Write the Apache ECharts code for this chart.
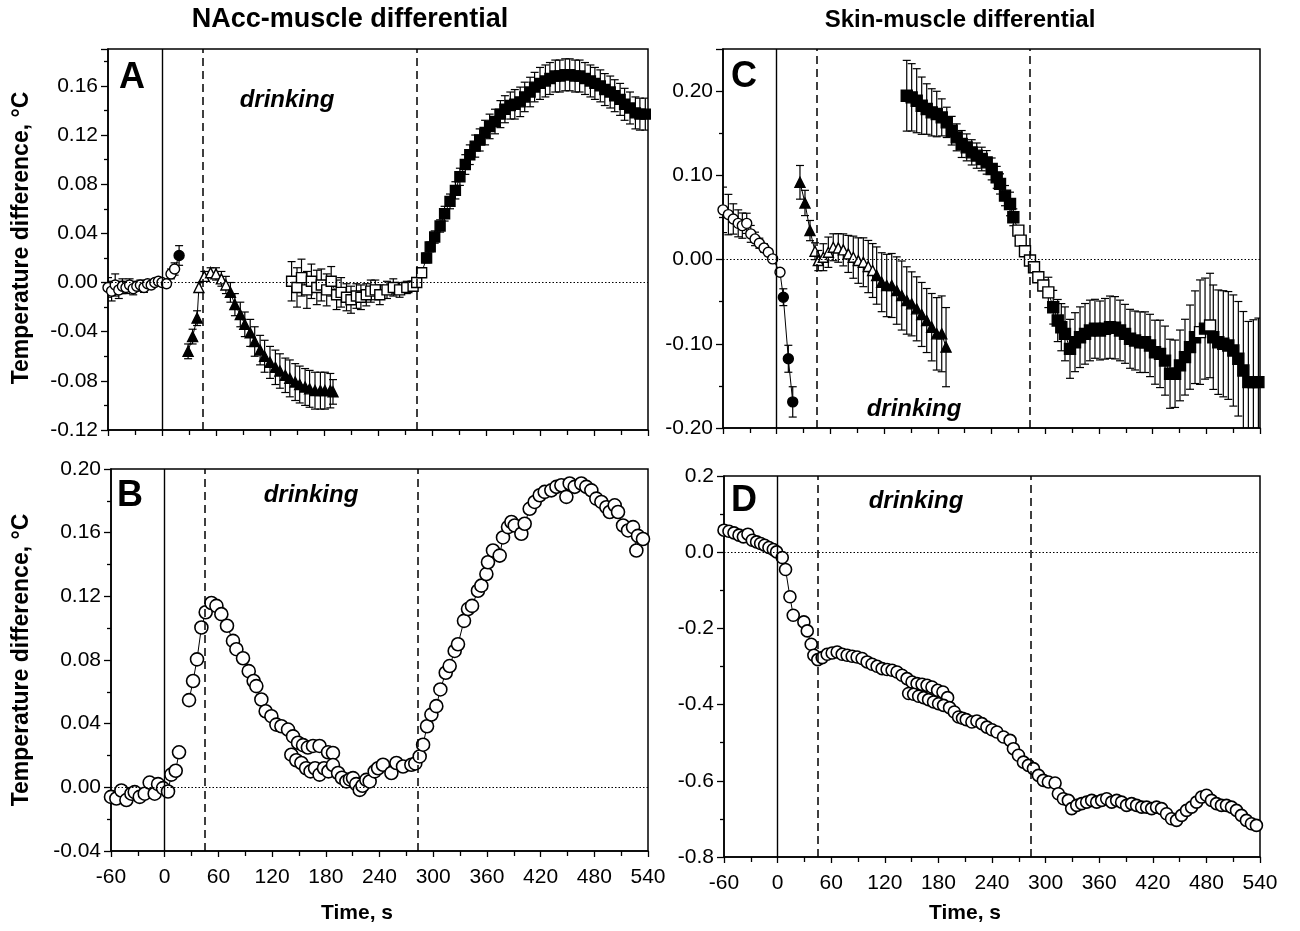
<!DOCTYPE html>
<html>
<head>
<meta charset="utf-8">
<script src="https://cdn.jsdelivr.net/npm/echarts@6/dist/echarts.min.js"></script>
<style>html,body{margin:0;padding:0;background:#fff}#c{width:1300px;height:931px}</style>
</head>
<body>
<div id="c"></div>
<script>
// ---------------- DATA ----------------
// [time s, value °C, s.e.m., filled(1)/open(0)]
const aCircles = [[-60,-0.004,0.008,0],[-56,-0.007,0.008,0],[-52,-0.002,0.009,0],[-48,-0.006,0.007,0],[-44,-0.003,0.006,0],[-40,-0.004,0.005,0],[-36,-0.002,0.005,0],[-32,-0.005,0.005,0],[-28,-0.003,0.004,0],[-24,-0.002,0.004,0],[-20,-0.004,0.004,0],[-16,-0.001,0.003,0],[-12,-0.002,0.003,0],[-8,0.000,0.003,0],[-4,0.001,0.002,0],[0,0.000,0.002,0],[5,-0.001,0.003,0],[10,0.007,0.004,0],[14,0.011,0.005,0],[19,0.022,0.008,1]];
const aTriangles = [[29,-0.056,0.006,1],[34,-0.044,0.006,1],[39,-0.029,0.006,1],[41,-0.004,0.004,0],[47,0.005,0.004,0],[54,0.008,0.004,0],[60,0.007,0.005,0],[66,0.003,0.006,0],[71,-0.002,0.007,0],[76,-0.008,0.008,1],[81,-0.018,0.009,1],[87,-0.026,0.010,1],[92,-0.034,0.010,1],[98,-0.041,0.011,1],[103,-0.048,0.012,1],[109,-0.055,0.012,1],[114,-0.060,0.013,1],[120,-0.065,0.013,1],[126,-0.069,0.014,1],[131,-0.072,0.014,1],[137,-0.0755,0.014,1],[142,-0.078,0.015,1],[148,-0.081,0.015,1],[153,-0.083,0.015,1],[159,-0.085,0.015,1],[164,-0.0865,0.015,1],[170,-0.088,0.015,1],[176,-0.088,0.015,1],[181,-0.088,0.015,1],[187,-0.088,0.014,1],[190,-0.089,0.010,1]];
const aSquares = [[144,0.001,0.016,0],[150,-0.004,0.016,0],[155,0.004,0.015,0],[161,-0.006,0.015,0],[166,0.001,0.014,0],[172,-0.004,0.014,0],[177,-0.002,0.013,0],[183,-0.006,0.013,0],[188,0.001,0.012,0],[194,-0.010,0.012,0],[199,-0.008,0.012,0],[205,-0.012,0.011,0],[210,-0.014,0.011,0],[216,-0.011,0.010,0],[221,-0.012,0.010,0],[227,-0.010,0.009,0],[232,-0.007,0.009,0],[237,-0.006,0.008,0],[242,-0.010,0.008,0],[250,-0.006,0.007,0],[257,-0.004,0.007,0],[264,-0.006,0.006,0],[272,-0.004,0.005,0],[279,-0.003,0.004,0],[283,0.000,0.003,0],[288.5,0.008,0.003,0],
 [294,0.020,0.004,1],[298,0.029,0.004,1],[303,0.037,0.005,1],[309,0.046,0.005,1],[314,0.056,0.006,1],[320,0.066,0.006,1],[326,0.075,0.007,1],[331,0.086,0.007,1],[337,0.096,0.008,1],[342,0.104,0.008,1],[348,0.111,0.009,1],[353,0.116,0.009,1],[359,0.122,0.010,1],[364,0.127,0.010,1],[370,0.131,0.010,1],[376,0.137,0.011,1],[381,0.141,0.011,1],[387,0.144,0.011,1],[392,0.145,0.012,1],[398,0.147,0.012,1],[403,0.151,0.012,1],[409,0.155,0.012,1],[414,0.159,0.012,1],[420,0.162,0.013,1],[426,0.164,0.013,1],[431,0.166,0.013,1],[437,0.168,0.013,1],[442,0.168,0.013,1],[448,0.169,0.013,1],[453,0.169,0.013,1],[459,0.168,0.013,1],[464,0.168,0.013,1],[470,0.166,0.013,1],[476,0.164,0.013,1],[481,0.162,0.013,1],[487,0.160,0.013,1],[492,0.157,0.013,1],[498,0.155,0.013,1],[503,0.152,0.013,1],[509,0.149,0.013,1],[514,0.145,0.013,1],[520,0.142,0.013,1],[526,0.138,0.013,1],[531,0.137,0.013,1],[537,0.137,0.013,1]];

// [time s, value °C]
const bSeg1 = [[-60,-0.006],[-54,-0.007],[-48.4,-0.002],[-42.8,-0.008],[-37.2,-0.004],[-33.5,-0.003],[-27.9,-0.006],[-22.3,-0.004],[-16.8,0.003],[-11.2,-0.004],[-7.4,0.002],[-1.9,-0.0005],[3.7,-0.0026],[7.4,0.008],[12.3,0.0104],[16,0.022]];
const bSeg2 = [[27.2,0.0548],[31.7,0.0668],[36.1,0.0804],[41,0.1004],[45.8,0.110],[52.2,0.1158],[57.8,0.114],[63.3,0.1088],[69.6,0.1015],[76.3,0.092],[80.1,0.0868],[87.5,0.0811],[93.9,0.073],[99.4,0.0668],[102.4,0.0636],[108,0.0552],[112.8,0.0478],[119.2,0.0447],[124.8,0.0394],[130.4,0.0384],[137.8,0.0363],[143.4,0.032],[149,0.028],[154.6,0.0265],[160,0.025],[165.7,0.026],[173,0.026],[182.5,0.022],[188,0.0216]];
const bSeg3 = [[141.5,0.0205],[147,0.017],[152.7,0.0153],[158,0.012],[163,0.010],[168,0.012],[173,0.008],[178,0.012],[183,0.010],[188,0.014],[193.7,0.009],[198,0.006],[203,0.0037],[207,0.005],[210.4,0.0058],[214,0.002],[217.9,-0.0016],[221,0.001],[225.3,0.0047],[229,0.0037],[234.6,0.010],[238.4,0.012],[243.9,0.0142],[253.3,0.009],[258.9,0.0153],[266.3,0.0131],[275.6,0.0142],[280,0.015],[284.9,0.0194],[288.7,0.0268],[293.1,0.0384],[298,0.0457],[303.5,0.051],[308,0.0615],[314,0.072],[318.4,0.0762],[324,0.0857],[327.7,0.0899],[334.4,0.1046],[338.9,0.112],[343.4,0.114],[350,0.1235],[353.8,0.1267],[359.4,0.134],[361.2,0.1414],[366.8,0.1488],[374.3,0.1456],[378,0.157],[383.6,0.1635],[387.4,0.1667],[391.1,0.1645],[398.5,0.1593],[402.2,0.1656],[407.8,0.175],[413.4,0.1793],[419,0.1835],[424.6,0.1856],[432,0.1866],[437.7,0.1888],[443.2,0.1898],[448.8,0.1825],[452.5,0.1909],[458.1,0.1888],[465.5,0.1909],[471.1,0.1888],[476.7,0.1866],[482.3,0.1814],[487.9,0.1793],[493.5,0.176],[497.2,0.173],[502.8,0.1772],[506.5,0.173],[512.1,0.1645],[517.7,0.1614],[523.3,0.1635],[527,0.1488],[528.8,0.158],[534.4,0.156]];

// [time s, value °C, s.e.m., filled(1)/open(0)]
const cCircles = [[-60,0.059,0.027,0],[-54,0.0534,0.024,0],[-48.5,0.0482,0.018,0],[-43,0.043,0.016,0],[-38.4,0.0403,0.015,0],[-33.5,0.043,0.012,0],[-29,0.0305,0.010,0],[-24.2,0.0245,0.008,0],[-19.4,0.0194,0.006,0],[-14.2,0.0138,0.005,0],[-9.4,0.0087,0.004,0],[-4.5,0.0008,0.003,0],[3.7,-0.015,0.004,0],[7.4,-0.0447,0.010,1],[13,-0.1178,0.016,1],[17.9,-0.169,0.018,1]];
const cTriangles = [[26,0.0917,0.020,1],[31.6,0.0672,0.015,1],[37.2,0.0344,0.012,1],[42.8,0.0099,0.010,0],[46.5,-0.0012,0.012,0],[52.1,0.0028,0.016,0],[57.7,0.0087,0.018,0],[63.2,0.0146,0.016,0],[68.8,0.0138,0.017,0],[74.4,0.0115,0.019,0],[80,0.0067,0.022,0],[85.6,0.0028,0.025,0],[91.2,-0.0012,0.027,0],[96.8,-0.0032,0.029,0],[102.3,-0.0083,0.031,0],[107.2,-0.013,0.032,0],[111.7,-0.019,0.034,1],[117.3,-0.0269,0.035,1],[122.9,-0.0308,0.037,1],[128.5,-0.0308,0.038,1],[134.1,-0.0368,0.040,1],[139.7,-0.0427,0.041,1],[145.3,-0.0486,0.040,1],[150.8,-0.0526,0.038,1],[156.4,-0.0585,0.038,1],[162,-0.0652,0.038,1],[167.6,-0.0724,0.038,1],[173.2,-0.0803,0.040,1],[178.8,-0.0882,0.043,1],[184.4,-0.0882,0.045,1],[189.2,-0.104,0.047,1]];
const cSquares = [[145.3,0.1945,0.042,1],[150.8,0.1926,0.040,1],[156.4,0.1886,0.038,1],[162,0.1827,0.034,1],[167.6,0.1787,0.030,1],[173.2,0.1748,0.028,1],[178.8,0.1728,0.027,1],[184.4,0.1688,0.022,1],[190,0.1629,0.018,1],[195.5,0.153,0.017,1],[201.1,0.1451,0.016,1],[206.7,0.1372,0.016,1],[212.3,0.1332,0.016,1],[217.9,0.1273,0.015,1],[223.5,0.1234,0.015,1],[229.1,0.1194,0.014,1],[234.6,0.1154,0.014,1],[240.2,0.1076,0.013,1],[245.8,0.0976,0.013,1],[249.5,0.0898,0.012,1],[255.1,0.0759,0.012,1],[260.7,0.066,0.014,1],[264.4,0.0502,0.010,1],
 [270,0.0344,0.005,0],[272.6,0.0225,0.004,0],[277.4,0.0099,0.004,0],[283,-0.0012,0.004,0],[287.5,-0.0091,0.004,0],[292.3,-0.021,0.005,0],[297.9,-0.0308,0.006,0],[303.5,-0.039,0.018,0],
 [309,-0.0566,0.020,1],[314,-0.0724,0.025,1],[318,-0.0803,0.028,1],[322.1,-0.0882,0.032,1],[327.7,-0.106,0.035,1],[333.3,-0.0981,0.035,1],[338.9,-0.0922,0.036,1],[344.5,-0.0882,0.036,1],[350,-0.0842,0.036,1],[355.6,-0.0822,0.035,1],[361.2,-0.0842,0.035,1],[366.8,-0.0822,0.036,1],[372.4,-0.0803,0.037,1],[378,-0.081,0.037,1],[383.6,-0.0842,0.036,1],[389.2,-0.0882,0.035,1],[394.8,-0.0941,0.035,1],[400.4,-0.0961,0.035,1],[406,-0.0981,0.036,1],[411.5,-0.0981,0.036,1],[417.1,-0.102,0.037,1],[422.7,-0.110,0.038,1],[428.3,-0.112,0.040,1],[433.9,-0.120,0.041,1],[439.5,-0.1356,0.041,1],[445.1,-0.1356,0.040,1],[450.6,-0.1257,0.042,1],[456.2,-0.1159,0.045,1],[461.8,-0.104,0.050,1],[467.4,-0.0922,0.055,1],[473,-0.0862,0.062,0],[478.6,-0.082,0.060,1],[484.2,-0.0783,0.062,0],[487.8,-0.0922,0.062,1],[493.4,-0.0981,0.062,1],[499,-0.100,0.063,1],[504.6,-0.102,0.064,1],[510.2,-0.108,0.066,1],[515.8,-0.1178,0.068,1],[521.4,-0.1317,0.070,1],[527,-0.1455,0.072,1],[532.6,-0.1455,0.074,1],[538.2,-0.1455,0.076,1]];

// [time s, value °C]
const dSeg1 = [[-60,0.0578],[-54.4,0.055],[-48.8,0.0508],[-43.2,0.0447],[-38.3,0.0403],[-33.2,0.0473],[-28.3,0.0315],[-23.5,0.027],[-19,0.0228],[-14.5,0.0184],[-9.7,0.0123],[-4.8,0.007],[-1.1,0.0008],[5.2,-0.014],[8.9,-0.0455],[13.8,-0.117],[17.5,-0.1655]];
const dSeg2 = [[29.4,-0.183],[33.2,-0.2066],[37.6,-0.2417],[40.6,-0.2705],[45,-0.282],[49.9,-0.2766],[55.5,-0.268],[61.1,-0.2645],[66.7,-0.262],[72.3,-0.268],[77.9,-0.2705],[83.5,-0.273],[89,-0.275],[94.6,-0.279],[100.2,-0.288],[105.8,-0.294],[111.4,-0.2995],[117,-0.3056],[122.6,-0.308],[128.2,-0.31],[133.7,-0.3144],[139.3,-0.323],[144.9,-0.3318],[150.5,-0.3406],[156.1,-0.345],[161.7,-0.3467],[167.3,-0.3494],[172.8,-0.3537],[179.1,-0.3625],[185.1,-0.367],[190.3,-0.3818]];
const dSeg3 = [[146.7,-0.371],[152.3,-0.373],[157.9,-0.378],[163.5,-0.3818],[169,-0.387],[174.6,-0.393],[180.2,-0.3976],[185.8,-0.402],[192.5,-0.408],[197.8,-0.4195],[202.6,-0.4326],[207,-0.436],[211.2,-0.4395],[217.5,-0.4457],[223.1,-0.443],[228.7,-0.45],[234.3,-0.459],[240,-0.466],[245.5,-0.472],[252.9,-0.485],[260.3,-0.494],[264,-0.5157],[269.6,-0.533],[275.2,-0.551],[280.8,-0.5595],[286.4,-0.568],[292,-0.5858],[297.5,-0.599],[303.1,-0.603],[310.6,-0.6057],[314.3,-0.634],[319.9,-0.647],[325.5,-0.6514],[329.2,-0.673],[334.9,-0.6646],[340.4,-0.66],[346,-0.656],[351.6,-0.6514],[357.2,-0.656],[362.8,-0.6514],[368.4,-0.647],[374,-0.656],[379.6,-0.6514],[385.1,-0.656],[390.7,-0.6646],[396.3,-0.66],[401.9,-0.6646],[407.5,-0.669],[413.1,-0.669],[418.7,-0.673],[424.2,-0.669],[429.8,-0.673],[435.4,-0.6865],[441,-0.6996],[446.6,-0.704],[452.2,-0.6908],[457.8,-0.6777],[463.4,-0.669],[469,-0.656],[474.5,-0.6427],[480.1,-0.638],[485.7,-0.6514],[491.3,-0.66],[496.9,-0.6646],[502.5,-0.6646],[508.1,-0.669],[513.7,-0.6777],[519.2,-0.6908],[524.8,-0.704],[530.4,-0.7126],[536,-0.717]];

// event markers (s)
const drinkStart = 45;
const drinkEnd = 283;

// axis ranges [min, max, interval]
const xRange = [-60, 540, 60];
const yRangeA = [-0.12, 0.19, 0.04];
const yRangeB = [-0.04, 0.20, 0.04];
const yRangeC = [-0.20, 0.25, 0.10];
const yRangeD = [-0.80, 0.20, 0.20];

// ---------------- CHART ----------------
const FONT = 'Liberation Sans, Arial, Helvetica, sans-serif';
const chart = echarts.init(document.getElementById('c'), null, {renderer: 'canvas'});

const grids = [
  {left: 108, top: 49, width: 540, height: 381},
  {left: 111, top: 469, width: 537, height: 382},
  {left: 723, top: 49, width: 537, height: 379},
  {left: 724, top: 476, width: 536, height: 381}
].map(g => Object.assign({show: true, borderColor: '#000', borderWidth: 1.5, backgroundColor: 'transparent'}, g));

function fmt(dec) {
  return v => (Math.abs(v) < 1e-9 ? 0 : v).toFixed(dec);
}

function xAxis(i, showLabels) {
  return {
    type: 'value', gridIndex: i, min: xRange[0], max: xRange[1], interval: xRange[2],
    axisLine: {show: true, onZero: false, lineStyle: {color: '#000', width: 1.5}},
    axisTick: {show: true, length: 6, lineStyle: {color: '#000', width: 1.3}},
    minorTick: {show: true, splitNumber: 2, length: 5, lineStyle: {color: '#000', width: 1.3}},
    splitLine: {show: false},
    axisLabel: {show: showLabels, color: '#000', fontFamily: FONT, fontSize: 21, margin: 16}
  };
}
function yAxis(i, r, dec) {
  return {
    type: 'value', gridIndex: i, min: r[0], max: r[1], interval: r[2],
    axisLine: {show: true, onZero: false, lineStyle: {color: '#000', width: 1.5}},
    axisTick: {show: true, length: 7, lineStyle: {color: '#000', width: 1.3}},
    minorTick: {show: true, splitNumber: 2, length: 4, lineStyle: {color: '#000', width: 1.3}},
    splitLine: {show: false},
    axisLabel: {show: true, color: '#000', fontFamily: FONT, fontSize: 21, margin: 10,
      showMaxLabel: (r[1] / r[2]) % 1 === 0, formatter: fmt(dec)}
  };
}

function errRender(params, api) {
  const x = api.value(0), y = api.value(1), e = api.value(2);
  const top = api.coord([x, y + e]);
  const bot = api.coord([x, y - e]);
  const cw = 4;
  const st = {stroke: '#000', lineWidth: 1.2};
  return {type: 'group', children: [
    {type: 'line', shape: {x1: top[0], y1: top[1], x2: bot[0], y2: bot[1]}, style: st},
    {type: 'line', shape: {x1: top[0] - cw, y1: top[1], x2: top[0] + cw, y2: top[1]}, style: st},
    {type: 'line', shape: {x1: bot[0] - cw, y1: bot[1], x2: bot[0] + cw, y2: bot[1]}, style: st}
  ]};
}

function errSeries(i, arr) {
  return {type: 'custom', xAxisIndex: i, yAxisIndex: i, renderItem: errRender, clip: true,
    data: arr.map(d => [d[0], d[1], d[2]]), encode: {x: 0, y: 1}, z: 2, silent: true, animation: false};
}
function markSeries(i, arr, symbol, size, bw) {
  return {type: 'line', xAxisIndex: i, yAxisIndex: i, symbol: symbol, symbolSize: size, clip: true,
    data: arr.map(d => ({value: [d[0], d[1]], itemStyle: {color: d[3] === 1 ? '#000' : '#fff'}})),
    lineStyle: {color: '#000', width: 1}, itemStyle: {borderColor: '#000', borderWidth: bw},
    emphasis: {disabled: true}, z: 4, silent: true, animation: false};
}
function openSeries(i, arr, size, bw) {
  return markSeries(i, arr.map(d => [d[0], d[1], 0, 0]), 'circle', size, bw);
}
function refLines(i) {
  return {type: 'line', xAxisIndex: i, yAxisIndex: i, data: [], z: 1, silent: true, animation: false,
    markLine: {silent: true, symbol: ['none', 'none'], label: {show: false}, animation: false,
      data: [
        {xAxis: 0, lineStyle: {color: '#000', width: 1.4, type: 'solid'}},
        {xAxis: drinkStart, lineStyle: {color: '#000', width: 1.5, type: [8, 5]}},
        {xAxis: drinkEnd, lineStyle: {color: '#000', width: 1.5, type: [8, 5]}},
        {yAxis: 0, lineStyle: {color: '#000', width: 1, type: [1.5, 2]}}
      ]}};
}

function txt(x, y, s, size, opts) {
  return {type: 'text', x: x, y: y, silent: true,
    style: Object.assign({text: s, fill: '#000', fontFamily: FONT, fontSize: size, fontWeight: 'bold',
      align: 'center', verticalAlign: 'middle'}, opts || {})};
}

const graphics = [
  txt(350, 20, 'NAcc-muscle differential', 27),
  txt(960, 20, 'Skin-muscle differential', 24),
  Object.assign(txt(22, 238, 'Temperature difference, °C', 23), {rotation: Math.PI / 2}),
  Object.assign(txt(22, 660, 'Temperature difference, °C', 23), {rotation: Math.PI / 2}),
  txt(132, 78, 'A', 36),
  txt(130, 496, 'B', 36),
  txt(744, 77, 'C', 36),
  txt(744, 501, 'D', 36),
  txt(287, 100, 'drinking', 24, {fontStyle: 'italic'}),
  txt(311, 495, 'drinking', 24, {fontStyle: 'italic'}),
  txt(914, 409, 'drinking', 24, {fontStyle: 'italic'}),
  txt(916, 501, 'drinking', 24, {fontStyle: 'italic'}),
  txt(357, 913, 'Time, s', 21),
  txt(965, 913, 'Time, s', 21)
];

const option = {
  animation: false,
  backgroundColor: '#fff',
  grid: grids,
  xAxis: [xAxis(0, false), xAxis(1, true), xAxis(2, false), xAxis(3, true)],
  yAxis: [yAxis(0, yRangeA, 2), yAxis(1, yRangeB, 2), yAxis(2, yRangeC, 2), yAxis(3, yRangeD, 1)],
  series: [
    refLines(0), refLines(1), refLines(2), refLines(3),
    errSeries(0, aCircles), errSeries(0, aTriangles), errSeries(0, aSquares),
    markSeries(0, aCircles, 'circle', 10, 1.4),
    markSeries(0, aTriangles, 'triangle', 10, 1.4),
    markSeries(0, aSquares, 'rect', 10, 1.4),
    openSeries(1, bSeg1, 13, 1.6), openSeries(1, bSeg2, 13, 1.6), openSeries(1, bSeg3, 13, 1.6),
    errSeries(2, cCircles), errSeries(2, cTriangles), errSeries(2, cSquares),
    markSeries(2, cCircles, 'circle', 10, 1.4),
    markSeries(2, cTriangles, 'triangle', 10, 1.4),
    markSeries(2, cSquares, 'rect', 11, 1.4),
    openSeries(3, dSeg1, 12, 1.6), openSeries(3, dSeg2, 12, 1.6), openSeries(3, dSeg3, 12, 1.6)
  ],
  graphic: graphics
};
chart.setOption(option);
</script>
</body>
</html>
